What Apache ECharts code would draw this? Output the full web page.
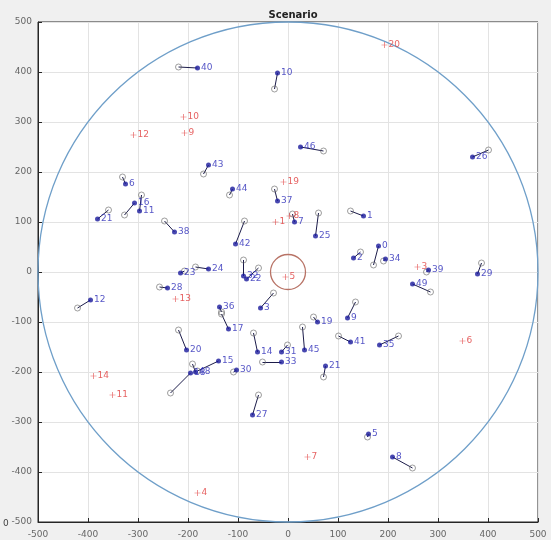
<!DOCTYPE html>
<html>
<head>
	<meta charset="utf-8">
	<title>Scenario</title>
	<style>
		html, body { margin: 0; padding: 0; background: #f0f0f0; }
	</style>
</head>

<body>
	<div style="width:551px;height:540px;" id="chart1"></div>

	<script src="https://cdn.jsdelivr.net/npm/echarts@6.0.0/dist/echarts.min.js"></script>
	<script>

	// 目标点 (红色 +)
	var targetNames = ['20', '10', '9', '12', '19', '1', '8', '5', '3', '13', '6', '14', '11', '7', '4'];
	var targetX = [193, -209, -207, -309, -9, -25, 3, -5, 259, -225, 349, -389, -351, 39, -181];
	var targetY = [454, 310, 278, 274, 180, 100, 112, -10, 10, -54, -138, -208, -246, -370, -442];

	// 智能体: 当前位置 (实心点) 和 起点 (空心圈)
	var agentNames = ['40', '10', '46', '26', '6', '16', '11', '21', '38', '43', '44', '37', '7', '25', '42',
		'24', '23', '32', '22', '28', '12', '36', '17', '3', '19', '9', '41', '35', '14', '31', '45', '33',
		'20', '18', '48', '15', '30', '21', '27', '5', '8', '1', '2', '0', '34', '39', '49', '29'];
	var agentX = [-181, -21, 25, 369, -325, -307, -297, -381, -227, -159, -111, -21, 13, 55, -105,
		-159, -215, -89, -83, -241, -395, -137, -119, -55, 59, 119, 125, 183, -61, -13, 33, -13,
		-203, -195, -185, -139, -103, 75, -71, 161, 209, 151, 131, 181, 195, 281, 249, 379];
	var agentY = [408, 398, 250, 230, 176, 138, 122, 106, 80, 214, 166, 142, 100, 72, 56,
		6, -2, -8, -14, -32, -56, -70, -114, -72, -100, -92, -140, -146, -160, -160, -156, -180,
		-156, -202, -200, -178, -196, -188, -286, -324, -370, 112, 28, 52, 26, 4, -24, -4];
	var startX = [-219, -27, 71, 401, -331, -327, -293, -359, -247, -169, -117, -27, 9, 61, -87,
		-185, -207, -89, -59, -257, -421, -133, -133, -29, 51, 135, 101, 221, -69, -1, 29, -51,
		-219, -235, -191, -181, -109, 71, -59, 159, 249, 125, 145, 171, 191, 277, 285, 387];
	var startY = [410, 366, 242, 244, 190, 114, 154, 124, 102, 196, 154, 166, 116, 118, 102,
		10, 2, 24, 8, -30, -72, -80, -84, -42, -90, -60, -128, -128, -122, -146, -110, -180,
		-116, -242, -184, -198, -200, -210, -246, -330, -392, 122, 40, 14, 22, 0, -40, 18];

	// 场景边界和中心区域 (x, y, 半径)
	var ringX = [0, 0];
	var ringY = [0, 0];
	var ringR = [500, 35];
	var ringColor = ['#6f9fc9', '#b87366'];

	var ticks = [-500, -400, -300, -200, -100, 0, 100, 200, 300, 400, 500];

	function show() {
		var myChart = echarts.init(document.getElementById('chart1'));

		var targets = [], dots = [], starts = [], links = [], rings = [];
		for (var i = 0; i < targetNames.length; i++) {
			targets.push({ name: targetNames[i], value: [targetX[i], targetY[i]] });
		}
		for (var j = 0; j < agentNames.length; j++) {
			dots.push({ name: agentNames[j], value: [agentX[j], agentY[j]] });
			starts.push([startX[j], startY[j]]);
			links.push({ coords: [[startX[j], startY[j]], [agentX[j], agentY[j]]] });
		}
		for (var k = 0; k < ringR.length; k++) {
			rings.push([ringX[k], ringY[k], ringR[k], k]);
		}

		var axisCommon = {
			type: 'value',
			min: ticks[0],
			max: ticks[ticks.length - 1],
			interval: 100,
			axisLine: { show: true, onZero: false, lineStyle: { color: '#262626', width: 1 } },
			axisTick: { show: true, inside: true, length: 4, lineStyle: { color: '#262626' } },
			axisLabel: { color: '#666', fontSize: 9, fontFamily: 'DejaVu Sans' },
			splitLine: { show: true, lineStyle: { color: '#e3e3e3', width: 1 } }
		};

		var option = {
			backgroundColor: '#f0f0f0',
			animation: false,
			title: {
				text: 'Scenario',
				left: 288,
				textAlign: 'center',
				top: 5,
				textStyle: { fontSize: 10, fontWeight: 'bold', color: '#222', fontFamily: 'DejaVu Sans' }
			},
			grid: {
				left: 38, top: 22, width: 500, height: 500,
				show: true, backgroundColor: '#ffffff', borderColor: '#262626', borderWidth: 1
			},
			xAxis: Object.assign({}, axisCommon, { axisLabel: Object.assign({}, axisCommon.axisLabel, { margin: 8 }) }),
			yAxis: Object.assign({}, axisCommon, { axisLabel: Object.assign({}, axisCommon.axisLabel, { margin: 6 }) }),
			graphic: [{
				type: 'text', left: 3, top: 519,
				style: { text: '0', fill: '#444', fontSize: 9, fontFamily: 'DejaVu Sans' }
			}],
			series: [{
				type: 'custom',
				silent: true,
				data: rings,
				renderItem: function (params, api) {
					var c = api.coord([api.value(0), api.value(1)]);
					var r = api.size([api.value(2), api.value(2)]);
					return {
						type: 'ellipse',
						shape: { cx: c[0], cy: c[1], rx: r[0], ry: r[1] },
						style: { fill: null, stroke: ringColor[api.value(3)], lineWidth: 1.3 }
					};
				},
				z: 1
			}, {
				type: 'lines',
				coordinateSystem: 'cartesian2d',
				data: links,
				lineStyle: { color: '#1c1c4a', width: 1, opacity: 1 },
				z: 2
			}, {
				type: 'scatter',
				data: starts,
				symbol: 'circle',
				symbolSize: 6,
				itemStyle: { color: 'rgba(255,255,255,0)', borderColor: '#666', borderWidth: 0.8 },
				z: 3
			}, {
				type: 'scatter',
				data: dots,
				symbol: 'circle',
				symbolSize: 5,
				itemStyle: { color: '#1a1a9c' },
				label: {
					show: true, position: 'right', distance: 1,
					formatter: '{b}', color: '#2a2ab8', fontSize: 9, fontFamily: 'DejaVu Sans'
				},
				z: 4
			}, {
				type: 'scatter',
				data: targets,
				symbol: 'path://M4,0h1v9h-1z M0,4h9v1h-9z',
				symbolSize: 6,
				itemStyle: { color: '#e03a3a' },
				label: {
					show: true, position: 'right', distance: 1,
					formatter: '{b}', color: '#e03a3a', fontSize: 9, fontFamily: 'DejaVu Sans'
				},
				z: 4
			}]
		};

		myChart.setOption(option);
	}

	show();

	</script>
</body>

</html>
